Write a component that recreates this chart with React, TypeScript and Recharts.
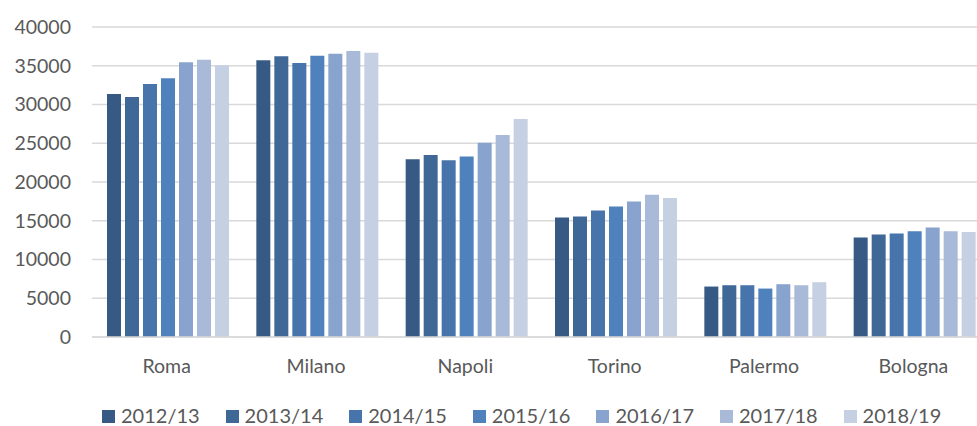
import { BarChart, Bar, XAxis, YAxis, CartesianGrid, Legend } from "recharts";

const cities = ["Roma", "Milano", "Napoli", "Torino", "Palermo", "Bologna"];
const years = ["2012/13", "2013/14", "2014/15", "2015/16", "2016/17", "2017/18", "2018/19"];

const y2012 = [31350, 35700, 22950, 15420, 6510, 12840];
const y2013 = [30960, 36220, 23470, 15550, 6680, 13230];
const y2014 = [32640, 35350, 22820, 16330, 6680, 13360];
const y2015 = [33380, 36300, 23300, 16840, 6250, 13650];
const y2016 = [35450, 36550, 25060, 17490, 6810, 14130];
const y2017 = [35780, 36900, 26050, 18340, 6680, 13650];
const y2018 = [35060, 36680, 28120, 17920, 7070, 13560];

const yTicks = [0, 5000, 10000, 15000, 20000, 25000, 30000, 35000, 40000];

const series = [y2012, y2013, y2014, y2015, y2016, y2017, y2018];
const colors = ["#375A84", "#3F6897", "#4774AB", "#4F81BD", "#88A3CD", "#A9B9D8", "#C5D0E3"];

const data = cities.map((city, i) => {
  const row: Record<string, string | number> = { city };
  years.forEach((y, j) => { row[y] = series[j][i]; });
  return row;
});

const FONT = "Lato, 'Open Sans', sans-serif";
const TEXT = "#595959";

function LegendBox({ payload }: { payload?: { value: string; color: string }[] }) {
  return (
    <div style={{ position: "relative", height: 40, fontFamily: FONT, fontSize: 20, color: TEXT }}>
      {(payload || []).map((p, i) => (
        <div key={p.value}
          style={{ position: "absolute", left: 102 + i * 123.6, top: 20, height: 18, display: "flex", alignItems: "center", whiteSpace: "nowrap" }}>
          <span style={{ width: 13, height: 13, background: p.color, display: "inline-block", marginRight: 6, marginTop: 2 }} />
          <span style={{ lineHeight: "18px" }}>{p.value}</span>
        </div>
      ))}
    </div>
  );
}

export default function App() {
  return (
    <div style={{ position: "fixed", left: 0, top: 0, width: 977, height: 426, overflow: "hidden", background: "#fff" }}>
      <BarChart width={988} height={426} data={data}
        margin={{ top: 27, right: 0, bottom: 0, left: 0 }}
        barCategoryGap={15} barGap={4}>
        <CartesianGrid vertical={false} stroke="#D9D9D9" strokeWidth={1.5} />
        <XAxis dataKey="city" height={49} tickLine={false} tickSize={0} tickMargin={22}
          axisLine={{ stroke: "#D9D9D9", strokeWidth: 1.5 }}
          tick={{ fontSize: 19.5, fill: TEXT, fontFamily: FONT }} />
        <YAxis width={92} domain={[0, 40000]} ticks={yTicks} axisLine={false} tickLine={false}
          tickSize={0} tickMargin={21} interval={0}
          tick={{ fontSize: 19.5, fill: TEXT, fontFamily: FONT }} />
        <Legend verticalAlign="bottom" height={40} content={(props: any) => <LegendBox payload={props.payload} />} />
        {years.map((y, j) => (
          <Bar key={y} dataKey={y} fill={colors[j]} isAnimationActive={false} />
        ))}
      </BarChart>
    </div>
  );
}
